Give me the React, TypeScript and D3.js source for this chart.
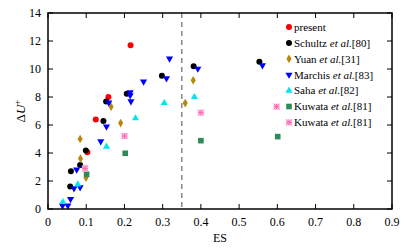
import React from 'react';
import * as d3 from 'd3';

// data: [ES, dU+]
const present = [[0.103, 4.05], [0.125, 6.4], [0.158, 8.0], [0.216, 11.7]];
const schultz = [
  [0.058, 1.6], [0.06, 2.7], [0.084, 3.15], [0.099, 4.17], [0.145, 6.29],
  [0.152, 7.67], [0.206, 8.24], [0.298, 9.52], [0.381, 10.2], [0.553, 10.52],
];
const yuan = [
  [0.084, 5.0], [0.085, 3.6], [0.0995, 2.24], [0.165, 7.31], [0.19, 6.14],
  [0.359, 7.57], [0.38, 9.19],
];
const marchis = [
  [0.038, 0.24], [0.052, 0.24], [0.059, 0.71], [0.068, 1.48], [0.084, 1.55],
  [0.075, 2.81], [0.094, 2.95], [0.138, 4.83], [0.153, 5.88], [0.159, 7.6],
  [0.217, 7.69], [0.215, 8.12], [0.215, 8.33], [0.25, 9.1], [0.31, 9.33],
  [0.318, 10.74], [0.392, 10.02], [0.561, 10.26],
];
const saha = [
  [0.039, 0.5], [0.078, 1.76], [0.153, 4.45], [0.229, 6.48], [0.304, 7.57], [0.383, 8.0],
];
const kuwataA = [[0.101, 2.48], [0.202, 3.98], [0.4, 4.88], [0.601, 5.17]];
const kuwataB = [[0.097, 2.9], [0.2, 5.21], [0.4, 6.88], [0.598, 7.31]];

const xTicks = [0, 0.1, 0.2, 0.3, 0.4, 0.5, 0.6, 0.7, 0.8, 0.9];
const yTicks = [0, 2, 4, 6, 8, 10, 12, 14];
const dashedAt = 0.35;

const series = [
  { name: 'present', ref: '', data: present, shape: 'circle', color: '#ff0000' },
  { name: 'Schultz', ref: '[80]', data: schultz, shape: 'circle', color: '#000000' },
  { name: 'Yuan', ref: '[31]', data: yuan, shape: 'diamond', color: '#b8860b' },
  { name: 'Marchis', ref: '[83]', data: marchis, shape: 'down', color: '#0000ff' },
  { name: 'Saha', ref: '[82]', data: saha, shape: 'up', color: '#00e5ee' },
  { name: 'Kuwata', ref: '[81]', data: kuwataA, shape: 'square', color: '#2e8b57' },
  { name: 'Kuwata', ref: '[81]', data: kuwataB, shape: 'star', color: '#ff69b4' },
];

const W = 416, H = 249;
const left = 48, right = 392, top = 13, bottom = 209;

const x = d3.scaleLinear().domain([0, 0.9]).range([left, right]);
const y = d3.scaleLinear().domain([0, 14]).range([bottom, top]);

function Marker({ shape, color, cx, cy }: any) {
  if (shape === 'circle') return <circle cx={cx} cy={cy} r={3} fill={color} />;
  if (shape === 'diamond') {
    const s = d3.symbol().type(d3.symbolDiamond).size(22)();
    return <path d={s || ''} transform={`translate(${cx},${cy})`} fill={color} />;
  }
  if (shape === 'down') {
    const s = d3.symbol().type(d3.symbolTriangle).size(22)();
    return <path d={s || ''} transform={`translate(${cx},${cy}) rotate(180)`} fill={color} />;
  }
  if (shape === 'up') {
    const s = d3.symbol().type(d3.symbolTriangle).size(22)();
    return <path d={s || ''} transform={`translate(${cx},${cy})`} fill={color} />;
  }
  if (shape === 'square') return <rect x={cx - 2.8} y={cy - 2.8} width={5.6} height={5.6} fill={color} />;
  // boxed asterisk
  const r = 3;
  return (
    <g transform={`translate(${cx},${cy})`} stroke={color} strokeWidth={1}>
      <rect x={-r} y={-r} width={2 * r} height={2 * r} fill="#ffc8e4" stroke="none" />
      <line x1={-r} y1={-r} x2={r} y2={r} />
      <line x1={-r} y1={r} x2={r} y2={-r} />
      <line x1={0} y1={-r} x2={0} y2={r} />
      <line x1={-r} y1={0} x2={r} y2={0} />
    </g>
  );
}

export default function App() {
  const tl = 5;
  return (
    <svg width={W} height={H} style={{ position: 'absolute', left: 0, top: 0, background: '#fff', fontFamily: 'Liberation Serif' }}
      fontSize={12}>
      <line x1={x(dashedAt)} x2={x(dashedAt)} y1={top} y2={bottom}
        stroke="#888" strokeWidth={1.5} strokeDasharray="5,4" />

      {xTicks.map((t) => (
        <g key={'x' + t}>
          <line x1={x(t)} x2={x(t)} y1={bottom} y2={bottom - tl} stroke="#000" />
          <line x1={x(t)} x2={x(t)} y1={top} y2={top + tl} stroke="#000" />
          <text x={x(t)} y={226} textAnchor="middle">{t}</text>
        </g>
      ))}
      {yTicks.map((t) => (
        <g key={'y' + t}>
          <line x1={left} x2={left + tl} y1={y(t)} y2={y(t)} stroke="#000" />
          <line x1={right} x2={right - tl} y1={y(t)} y2={y(t)} stroke="#000" />
          <text x={41} y={y(t)} dy="0.35em" textAnchor="end">{t}</text>
        </g>
      ))}

      {series.map((s, i) => (
        <g key={'s' + i}>
          {s.data.map((d, j) => (
            <Marker key={j} shape={s.shape} color={s.color} cx={x(d[0])} cy={y(d[1])} />
          ))}
        </g>
      ))}

      {/* legend */}
      {series.map((s, i) => {
        const ly = 27 + i * 15.9;
        return (
          <g key={'l' + i}>
            <Marker shape={s.shape} color={s.color} cx={289} cy={ly} />
            <text x={294} y={ly} dy="0.35em" fontSize={11}>
              {s.name}
              {s.ref ? <tspan> <tspan fontStyle="italic">et al.</tspan>{s.ref}</tspan> : null}
            </text>
          </g>
        );
      })}

      <rect x={left} y={top} width={right - left} height={bottom - top}
        fill="none" stroke="#000" strokeWidth={1.5} />

      <text x={220} y={242} textAnchor="middle">ES</text>
      <text transform={`translate(25,${(top + bottom) / 2}) rotate(-90)`} textAnchor="middle" fontSize={13}>
        Δ<tspan fontStyle="italic">U</tspan><tspan dy="-5" fontSize={9}>+</tspan>
      </text>
    </svg>
  );
}
